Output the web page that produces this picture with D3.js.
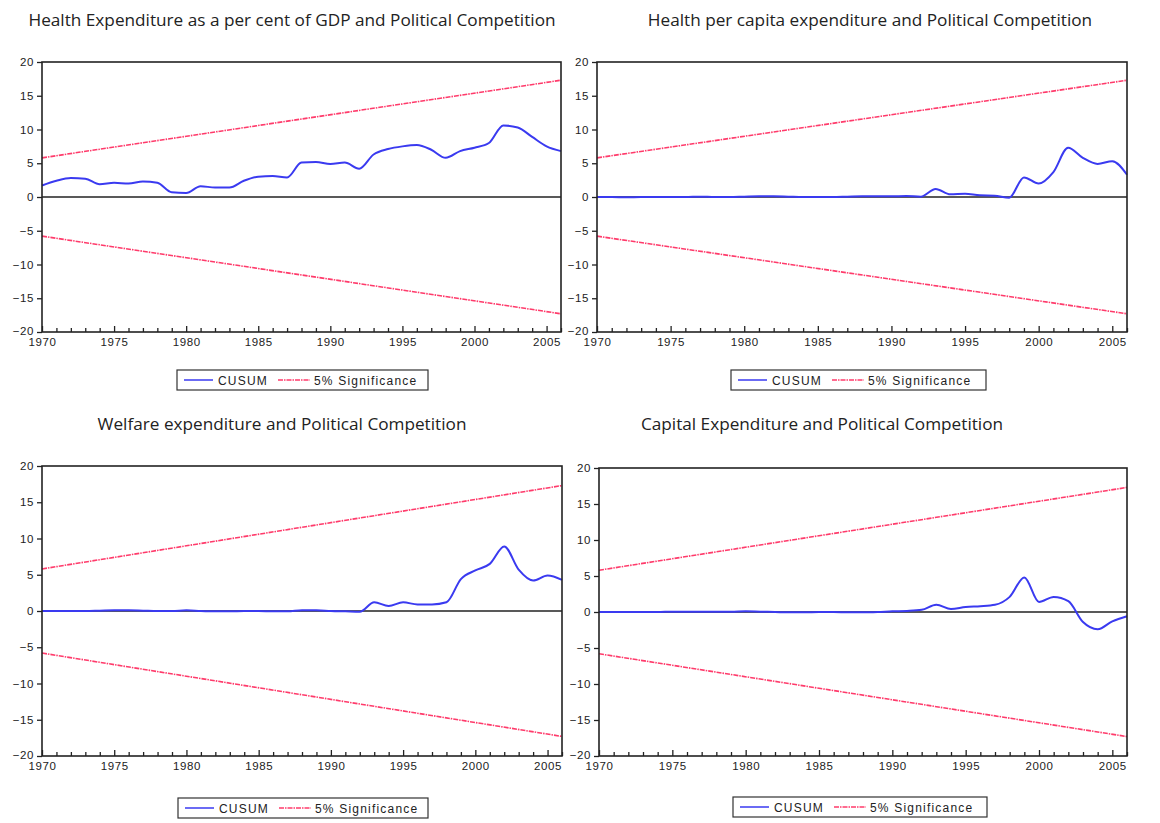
<!DOCTYPE html>
<html>
<head>
<meta charset="utf-8">
<script src="https://cdn.jsdelivr.net/npm/d3@7"></script>
<style>
  html, body { margin: 0; padding: 0; background: #fff; }
  svg { display: block; }
</style>
</head>
<body>
<svg id="chart" width="1160" height="823"></svg>
<script>
// Sample years (annual observations)
const years = [1970, 1971, 1972, 1973, 1974, 1975, 1976, 1977, 1978, 1979,
               1980, 1981, 1982, 1983, 1984, 1985, 1986, 1987, 1988, 1989,
               1990, 1991, 1992, 1993, 1994, 1995, 1996, 1997, 1998, 1999,
               2000, 2001, 2002, 2003, 2004, 2005, 2006];

// Panel titles
const titles = [
  "Health Expenditure as a per cent of GDP and Political Competition",
  "Health per capita expenditure and Political Competition",
  "Welfare expenditure and Political Competition",
  "Capital Expenditure and Political Competition"
];

// CUSUM statistics, one series per panel
const cusumHealthGdp = [1.7, 2.4, 2.8, 2.7, 1.9, 2.1, 2.0, 2.3, 2.1, 0.7,
                        0.6, 1.6, 1.4, 1.4, 2.4, 3.0, 3.1, 2.9, 5.1, 5.2,
                        4.9, 5.1, 4.2, 6.3, 7.1, 7.5, 7.7, 7.0, 5.8, 6.8,
                        7.3, 8.0, 10.6, 10.3, 8.9, 7.5, 6.8];
const cusumHealthPc  = [0.0, 0.0, -0.05, 0.0, 0.0, 0.0, 0.0, 0.05, 0.0, 0.0,
                        0.05, 0.1, 0.1, 0.05, 0.0, 0.0, 0.0, 0.05, 0.1, 0.1,
                        0.1, 0.15, 0.05, 1.2, 0.4, 0.5, 0.25, 0.2, -0.1, 2.9,
                        2.0, 3.7, 7.3, 5.8, 4.9, 5.3, 3.3];
const cusumWelfare   = [0.0, 0.0, 0.0, 0.0, 0.05, 0.1, 0.1, 0.05, 0.0, 0.0,
                        0.1, 0.0, -0.05, -0.05, 0.0, 0.0, -0.05, -0.05, 0.1, 0.1,
                        0.0, -0.05, -0.1, 1.2, 0.7, 1.2, 0.9, 0.9, 1.2, 4.4,
                        5.6, 6.5, 8.9, 5.7, 4.2, 4.9, 4.3];
const cusumCapital   = [0.0, 0.0, 0.0, 0.0, 0.0, 0.05, 0.05, 0.05, 0.05, 0.05,
                        0.1, 0.05, 0.0, -0.05, -0.05, 0.0, 0.0, -0.05, -0.05, 0.0,
                        0.1, 0.15, 0.3, 1.0, 0.4, 0.7, 0.8, 1.0, 2.1, 4.8,
                        1.4, 2.1, 1.5, -1.4, -2.4, -1.3, -0.6];
const cusumSeries = [cusumHealthGdp, cusumHealthPc, cusumWelfare, cusumCapital];

// 5% significance bounds (straight lines between the sample end points)
const boundYears = [1970, 2006];
const upperBound = [5.8, 17.3];
const lowerBound = [-5.8, -17.3];

// Axis ticks
const yTicks = [-20, -15, -10, -5, 0, 5, 10, 15, 20];
const xLabelYears = [1970, 1975, 1980, 1985, 1990, 1995, 2000, 2005];
const legendLabels = ["CUSUM", "5% Significance"];

// Panel frames
const layout = [
  {left: 42,  right: 561,  top: 62,  bottom: 332, titleX: 292, titleY: 26,  lx: 177, ly: 370, lw: 251},
  {left: 597, right: 1127, top: 62,  bottom: 332, titleX: 870, titleY: 26,  lx: 731, ly: 370, lw: 255},
  {left: 42,  right: 562,  top: 466, bottom: 756, titleX: 282, titleY: 430, lx: 178, ly: 798, lw: 250},
  {left: 599, right: 1127, top: 468, bottom: 756, titleX: 822, titleY: 430, lx: 733, ly: 797, lw: 254}
];

const BLUE = "#3a3af0";
const RED = "#ff3b6b";
const DASH = "5,1,1.5,1";
const svg = d3.select("#chart");

layout.forEach((p, i) => {
  const x = d3.scaleLinear().domain([1970, 2006]).range([p.left, p.right]);
  const y = d3.scaleLinear().domain([-20, 20]).range([p.bottom, p.top]);
  const g = svg.append("g");

  // title
  g.append("text")
    .attr("x", p.titleX).attr("y", p.titleY)
    .attr("text-anchor", "middle")
    .attr("font-family", "'Open Sans', sans-serif")
    .attr("font-size", 17.2)
    .attr("fill", "#222")
    .text(titles[i]);

  // left axis
  const yAxis = d3.axisLeft(y).tickValues(yTicks).tickSize(5).tickPadding(3)
    .tickFormat(d3.format("d"));
  const ya = g.append("g").attr("transform", `translate(${p.left},0)`).call(yAxis);
  ya.select(".domain").remove();

  // bottom axis: every year, labels every five years, ticks pointing inward
  const xAxis = d3.axisBottom(x).tickValues(years).tickSize(0).tickPadding(6)
    .tickFormat(d => xLabelYears.includes(d) ? String(d) : "");
  const xa = g.append("g").attr("transform", `translate(0,${p.bottom})`).call(xAxis);
  xa.select(".domain").remove();
  xa.selectAll(".tick line")
    .attr("y2", d => xLabelYears.includes(d) ? -6 : -4)
    .attr("stroke", "#222").attr("stroke-width", 1.3);

  [ya, xa].forEach(a => {
    a.selectAll("text")
      .attr("font-family", "Arial, 'Liberation Sans', sans-serif")
      .attr("font-size", 11.5)
      .attr("letter-spacing", 0.6)
      .attr("fill", "#222");
  });
  // keep the lowest y label clear of the first year label
  ya.selectAll(".tick text").attr("dy", d => d === -20 ? "0.2em" : "0.32em");
  ya.selectAll(".tick line").attr("stroke", "#222").attr("stroke-width", 1.3);

  // significance bounds
  const boundLine = d3.line().x((d, k) => x(boundYears[k])).y(d => y(d));
  [upperBound, lowerBound].forEach(b => {
    g.append("path")
      .attr("d", boundLine(b))
      .attr("fill", "none")
      .attr("stroke", RED)
      .attr("stroke-width", 1.6)
      .attr("stroke-dasharray", DASH);
  });

  // zero reference line
  g.append("line")
    .attr("x1", p.left).attr("x2", p.right)
    .attr("y1", y(0)).attr("y2", y(0))
    .attr("stroke", "#222").attr("stroke-width", 1.6);

  // CUSUM line
  const cusumLine = d3.line()
    .x((d, k) => x(years[k]))
    .y(d => y(d))
    .curve(d3.curveMonotoneX);
  g.append("path")
    .attr("d", cusumLine(cusumSeries[i]))
    .attr("fill", "none")
    .attr("stroke", BLUE)
    .attr("stroke-width", 2);

  // frame
  g.append("rect")
    .attr("x", p.left).attr("y", p.top)
    .attr("width", p.right - p.left).attr("height", p.bottom - p.top)
    .attr("fill", "none").attr("stroke", "#222").attr("stroke-width", 1.6);

  // legend
  const lg = g.append("g").attr("transform", `translate(${p.lx},${p.ly})`);
  lg.append("rect")
    .attr("width", p.lw).attr("height", 20)
    .attr("fill", "#fff").attr("stroke", "#333").attr("stroke-width", 1.2);
  lg.append("line").attr("x1", 7).attr("x2", 36).attr("y1", 10).attr("y2", 10)
    .attr("stroke", BLUE).attr("stroke-width", 1.5);
  lg.append("line").attr("x1", 101).attr("x2", 133).attr("y1", 10).attr("y2", 10)
    .attr("stroke", RED).attr("stroke-width", 1.5)
    .attr("stroke-dasharray", DASH);
  const lt = [{tx: 41, s: legendLabels[0]}, {tx: 137, s: legendLabels[1]}];
  lt.forEach(t => {
    lg.append("text")
      .attr("x", t.tx).attr("y", 14.5)
      .attr("font-family", "Arial, 'Liberation Sans', sans-serif")
      .attr("font-size", 12)
      .attr("letter-spacing", 1.2)
      .attr("fill", "#222")
      .text(t.s);
  });
});
</script>
</body>
</html>
